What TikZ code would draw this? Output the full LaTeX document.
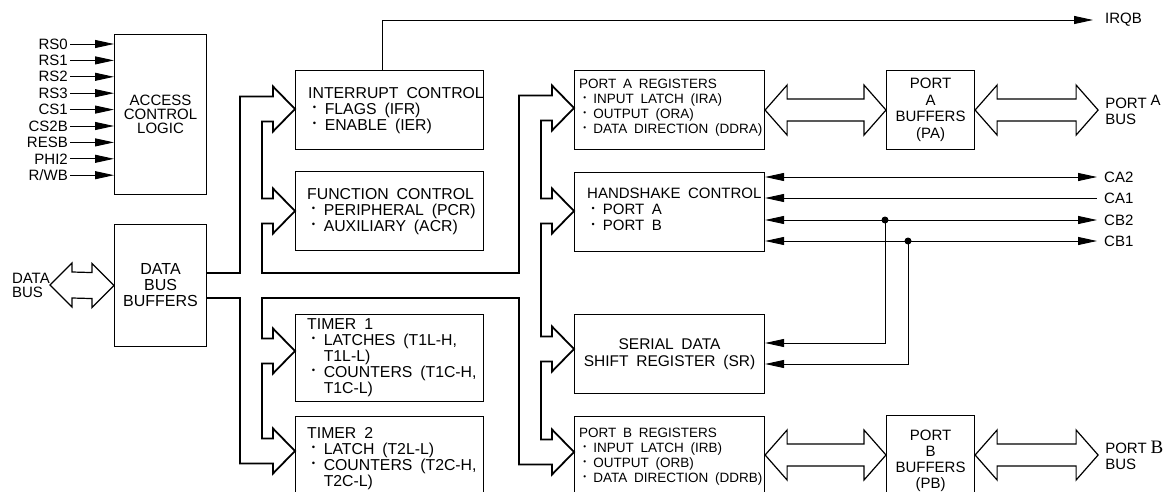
\documentclass[tikz,border=0pt]{standalone}
\usepackage{fontspec}
\setmainfont{Liberation Sans}[WordSpace=1.8]
\newfontfamily\serifB{Liberation Serif}
\usetikzlibrary{arrows.meta,calc}
\newcommand\fs{\fontsize{15.8}{16}\selectfont}
\newcommand\fss{\fontsize{13.5}{15}\selectfont}
\newcommand\bul{\makebox[1.05em][l]{\hspace{.3em}\raisebox{.22em}{\scalebox{.6}{\textbullet}}}}
\newcommand\ind{\hspace*{1.05em}}
\newcommand\busin[2]{|- ($(#1.north west)+(-22,#2-12.5)$) -- ++(0,-10) -- ($(#1.north west)+(0,#2)$) -- ++(-22,22.5) -- ++(0,-10)}
\newcommand\fatlink[4]{\draw[fat] (#1) -- ++(22,-#3) -- ++(0,#3-#4) -- ($(#2)+(-22,-#4)$) -- ++(0,#4-#3) -- (#2) -- ++(-22,#3) -- ++(0,#4-#3) -- ($(#1)+(22,#4)$) -- ++(0,#3-#4) -- cycle;}
\tikzset{
  box/.style={draw, line width=1.1pt, inner sep=0pt, anchor=north west},
  txt/.style={font=\fs, align=left, inner sep=0pt, anchor=north west},
  ctr/.style={font=\fs, align=center},
  lbl/.style={font=\fontsize{15}{16}\selectfont, inner sep=0pt},
  sig/.style={line width=.9pt},
  bus/.style={line width=1.8pt},
  fat/.style={line width=1.2pt},
  >={Triangle[length=19pt,width=8pt]}
}
\begin{document}
\begin{tikzpicture}[x=1pt,y=-1pt]
\useasboundingbox (0,0) rectangle (1166,492);

\node[box, ctr, font=\fontsize{15}{14}\selectfont, minimum width=92, minimum height=160] (acl) at (114,34) {ACCESS\\CONTROL\\LOGIC};
\node[box, ctr, font=\fontsize{16}{16}\selectfont, minimum width=92, minimum height=122] (dbb) at (114,224) {DATA\\BUS\\BUFFERS};

\node[box, minimum width=188, minimum height=79] (intc) at (295,70) {};
\node[box, minimum width=188, minimum height=79] (func) at (295,171) {};
\node[box, minimum width=188, minimum height=87] (tmr1) at (295,314) {};
\node[box, minimum width=188, minimum height=90] (tmr2) at (295,416) {};
\node[box, minimum width=190, minimum height=79] (pra) at (574,70) {};
\node[box, minimum width=190, minimum height=79] (hsc) at (574,172) {};
\node[box, ctr, font=\fontsize{15.5}{17}\selectfont, minimum width=190, minimum height=79] (sdr) at (574,314) {SERIAL DATA\\SHIFT REGISTER (SR)};
\node[box, minimum width=190, minimum height=90] (prb) at (574,416) {};
\node[box, ctr, font=\fontsize{15}{16.5}\selectfont, minimum width=88, minimum height=79] (pab) at (886,70) {PORT\\A\\BUFFERS\\(PA)};
\node[box, minimum width=88, minimum height=90] (pbb) at (886,415) {};

\node[txt] (intc-t) at ($(intc.north west)+(13,17)$) {INTERRUPT CONTROL\\ \bul FLAGS (IFR)\\ \bul ENABLE (IER)};
\node[txt] (func-t) at ($(func.north west)+(12,17)$) {FUNCTION CONTROL\\ \bul PERIPHERAL (PCR)\\ \bul AUXILIARY (ACR)};
\node[txt] (tmr1-t) at ($(tmr1.north west)+(12,4)$) {TIMER 1\\ \bul LATCHES (T1L-H,\\ \ind T1L-L)\\ \bul COUNTERS (T1C-H,\\ \ind T1C-L)};
\node[txt] (tmr2-t) at ($(tmr2.north west)+(12,11)$) {TIMER 2\\ \bul LATCH (T2L-L)\\ \bul COUNTERS (T2C-H,\\ \ind T2C-L)};
\node[txt, font=\fss] (pra-t) at ($(pra.north west)+(5,9)$) {PORT A REGISTERS\\ \bul INPUT LATCH (IRA)\\ \bul OUTPUT (ORA)\\ \bul DATA DIRECTION (DDRA)};
\node[txt, font=\fontsize{15}{16}\selectfont] (hsc-t) at ($(hsc.north west)+(13,16)$) {HANDSHAKE CONTROL\\ \bul PORT A\\ \bul PORT B};
\node[txt, font=\fss] (prb-t) at ($(prb.north west)+(5,12)$) {PORT B REGISTERS\\ \bul INPUT LATCH (IRB)\\ \bul OUTPUT (ORB)\\ \bul DATA DIRECTION (DDRB)};
\node[ctr, font=\fontsize{15}{16}\selectfont, anchor=north, inner sep=0pt] (pbb-t) at ($(pbb.north)+(0,15)$) {PORT\\B\\BUFFERS\\(PB)};

\foreach \s [count=\i from 0] in {RS0,RS1,RS2,RS3,CS1,CS2B,RESB,PHI2,{R/WB}} {
  \node[lbl, anchor=east, inner xsep=2pt] (in\i) at (70,44+16.4*\i) {\s};
  \draw[sig,->] (in\i) -- (acl.west |- in\i);
}

\node[lbl, align=left, anchor=east, font=\fontsize{15}{14}\selectfont] (dbusl) at (50,285) {DATA\\BUS};
\fatlink{dbusl.east}{dbb.west}{22}{13}

\draw[bus] (dbb.east |- 0,273) -- (240,273) \busin{intc}{39} -- ++(-11,0) \busin{func}{40} -- ++(-11,0) |- (519,273)
  \busin{pra}{38} -- ++(-11,0) \busin{hsc}{39} -- ++(-11,0) \busin{sdr}{35} -- ++(-11,0) \busin{prb}{36} -- ++(-33,0) |- (262,298)
  \busin{tmr1}{37} -- ++(-11,0) \busin{tmr2}{35} -- ++(-33,0) |- (dbb.east |- 0,298);

\node[lbl, anchor=west, inner xsep=12pt] (irqb) at (1093,20) {IRQB};
\draw[sig,->] ($(intc.north)+(-7,0)$) |- (irqb.west);

\node[lbl, anchor=west, align=left, inner xsep=7pt] (pabus) at ($(pab.east)+(123,0)$) {PORT\hspace{4pt}\raisebox{3pt}{A}\\BUS};
\fatlink{pra.east}{pab.west}{25}{11}
\fatlink{pab.east}{pabus.west}{25}{11}

\coordinate (prb-r) at ($(prb.north east)+(0,39)$);
\coordinate (pbb-l) at (pbb.west |- prb-r);
\coordinate (pbb-r) at (pbb.east |- prb-r);
\node[lbl, anchor=west, align=left, inner xsep=7pt] (pbbus) at ($(pbb-r)+(123,0)$) {PORT\hspace{4pt}{\serifB\fontsize{19}{19}\selectfont B}\\BUS};
\fatlink{prb-r}{pbb-l}{25}{11}
\fatlink{pbb-r}{pbbus.west}{25}{11}

\foreach \s/\y in {CA2/177,CA1/198,CB2/220,CB1/241}
  \node[lbl, anchor=west, inner xsep=7pt] (\s) at (1097,\y) {\s};
\draw[sig,<->] (hsc.east |- CA2) -- (CA2.west);
\draw[sig,<-] (hsc.east |- CA1) -- (CA1.west);
\draw[sig,<->] (hsc.east |- CB2) -- (CB2.west);
\draw[sig,<->] (hsc.east |- CB1) -- (CB1.west);
\coordinate (j2) at (885,0 |- CB2);
\coordinate (j1) at (908,0 |- CB1);
\fill (j2) circle (3.5);
\fill (j1) circle (3.5);
\draw[sig,->] (j2) |- ($(sdr.north east)+(0,29)$);
\draw[sig,->] (j1) |- ($(sdr.north east)+(0,50)$);
\end{tikzpicture}
\end{document}
